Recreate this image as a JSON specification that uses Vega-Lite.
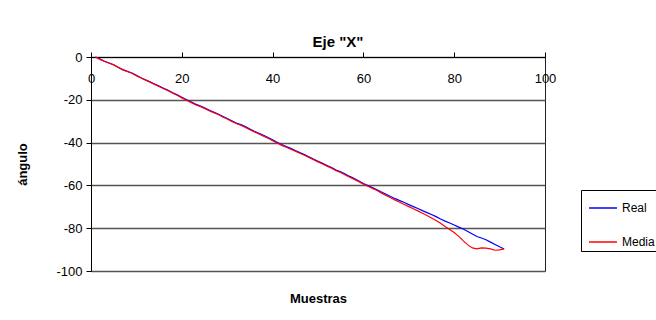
{
  "$schema": "https://vega.github.io/schema/vega-lite/v6.json",
  "autosize": {"type": "none"},
  "width": 454,
  "height": 214,
  "padding": {"left": 91, "top": 57, "right": 111, "bottom": 49},
  "background": "white",
  "config": {
    "font": "Liberation Sans",
    "view": {"stroke": "#222", "strokeWidth": 1}
  },
  "title": {
    "text": "Eje \"X\"",
    "font": "Liberation Sans",
    "fontSize": 15,
    "fontWeight": "bold",
    "color": "#000",
    "anchor": "middle",
    "dx": 20,
    "offset": 1
  },
  "data": {
    "values": [
      {"m": 1, "Real": 0, "Media": 0},
      {"m": 2, "Real": -1.0, "Media": -1.1},
      {"m": 3, "Real": -2.0, "Media": -2.1},
      {"m": 4, "Real": -2.8, "Media": -2.9},
      {"m": 5, "Real": -3.6, "Media": -3.7},
      {"m": 6, "Real": -4.8, "Media": -4.9},
      {"m": 7, "Real": -5.9, "Media": -6.0},
      {"m": 8, "Real": -6.7, "Media": -6.8},
      {"m": 9, "Real": -7.5, "Media": -7.6},
      {"m": 10, "Real": -8.6, "Media": -8.7},
      {"m": 11, "Real": -9.7, "Media": -9.8},
      {"m": 12, "Real": -10.6, "Media": -10.8},
      {"m": 13, "Real": -11.6, "Media": -11.8},
      {"m": 14, "Real": -12.6, "Media": -12.8},
      {"m": 15, "Real": -13.6, "Media": -13.8},
      {"m": 16, "Real": -14.6, "Media": -14.8},
      {"m": 17, "Real": -15.6, "Media": -15.8},
      {"m": 18, "Real": -16.7, "Media": -16.9},
      {"m": 19, "Real": -17.7, "Media": -17.9},
      {"m": 20, "Real": -18.8, "Media": -19.1},
      {"m": 21, "Real": -19.9, "Media": -20.2},
      {"m": 22, "Real": -20.9, "Media": -21.2},
      {"m": 23, "Real": -22.0, "Media": -22.3},
      {"m": 24, "Real": -22.8, "Media": -23.1},
      {"m": 25, "Real": -23.7, "Media": -24.0},
      {"m": 26, "Real": -24.8, "Media": -25.1},
      {"m": 27, "Real": -25.7, "Media": -26.0},
      {"m": 28, "Real": -26.6, "Media": -26.9},
      {"m": 29, "Real": -27.7, "Media": -28.0},
      {"m": 30, "Real": -28.7, "Media": -29.0},
      {"m": 31, "Real": -29.8, "Media": -30.1},
      {"m": 32, "Real": -30.9, "Media": -31.1},
      {"m": 33, "Real": -31.6, "Media": -31.9},
      {"m": 34, "Real": -32.5, "Media": -32.9},
      {"m": 35, "Real": -33.7, "Media": -34.0},
      {"m": 36, "Real": -34.7, "Media": -35.0},
      {"m": 37, "Real": -35.6, "Media": -36.0},
      {"m": 38, "Real": -36.6, "Media": -37.0},
      {"m": 39, "Real": -37.6, "Media": -38.0},
      {"m": 40, "Real": -38.7, "Media": -39.1},
      {"m": 41, "Real": -39.8, "Media": -40.2},
      {"m": 42, "Real": -40.9, "Media": -41.3},
      {"m": 43, "Real": -41.8, "Media": -42.2},
      {"m": 44, "Real": -42.7, "Media": -43.1},
      {"m": 45, "Real": -43.7, "Media": -44.0},
      {"m": 46, "Real": -44.7, "Media": -45.0},
      {"m": 47, "Real": -45.6, "Media": -45.9},
      {"m": 48, "Real": -46.6, "Media": -46.9},
      {"m": 49, "Real": -47.7, "Media": -48.0},
      {"m": 50, "Real": -48.7, "Media": -49.0},
      {"m": 51, "Real": -49.7, "Media": -50.0},
      {"m": 52, "Real": -50.7, "Media": -51.0},
      {"m": 53, "Real": -51.7, "Media": -52.0},
      {"m": 54, "Real": -52.8, "Media": -53.1},
      {"m": 55, "Real": -53.7, "Media": -54.0},
      {"m": 56, "Real": -54.7, "Media": -55.1},
      {"m": 57, "Real": -55.8, "Media": -56.2},
      {"m": 58, "Real": -56.8, "Media": -57.2},
      {"m": 59, "Real": -57.9, "Media": -58.3},
      {"m": 60, "Real": -59.1, "Media": -59.4},
      {"m": 61, "Real": -60.1, "Media": -60.4},
      {"m": 62, "Real": -61.0, "Media": -61.4},
      {"m": 63, "Real": -62.0, "Media": -62.4},
      {"m": 64, "Real": -63.1, "Media": -63.6},
      {"m": 65, "Real": -64.1, "Media": -64.7},
      {"m": 66, "Real": -65.2, "Media": -65.8},
      {"m": 67, "Real": -66.2, "Media": -66.9},
      {"m": 68, "Real": -67.1, "Media": -67.9},
      {"m": 69, "Real": -68.0, "Media": -68.9},
      {"m": 70, "Real": -69.0, "Media": -69.9},
      {"m": 71, "Real": -69.9, "Media": -70.9},
      {"m": 72, "Real": -70.8, "Media": -71.9},
      {"m": 73, "Real": -71.8, "Media": -73.0},
      {"m": 74, "Real": -72.7, "Media": -74.1},
      {"m": 75, "Real": -73.6, "Media": -75.2},
      {"m": 76, "Real": -74.6, "Media": -76.4},
      {"m": 77, "Real": -75.7, "Media": -77.7},
      {"m": 78, "Real": -76.7, "Media": -79.2},
      {"m": 79, "Real": -77.6, "Media": -80.6},
      {"m": 80, "Real": -78.5, "Media": -82.0},
      {"m": 81, "Real": -79.5, "Media": -83.8},
      {"m": 82, "Real": -80.4, "Media": -85.9},
      {"m": 83, "Real": -81.5, "Media": -87.8},
      {"m": 84, "Real": -82.7, "Media": -89.2},
      {"m": 85, "Real": -83.9, "Media": -89.7},
      {"m": 86, "Real": -84.6, "Media": -89.2},
      {"m": 87, "Real": -85.4, "Media": -89.3},
      {"m": 88, "Real": -86.5, "Media": -89.7},
      {"m": 89, "Real": -87.6, "Media": -90.3},
      {"m": 90, "Real": -88.7, "Media": -90.1},
      {"m": 91, "Real": -89.7, "Media": -89.7}
    ]
  },
  "transform": [{"fold": ["Real", "Media"], "as": ["serie", "valor"]}],
  "mark": {"type": "line", "strokeWidth": 1.2, "interpolate": "linear"},
  "encoding": {
    "x": {
      "field": "m",
      "type": "quantitative",
      "scale": {"domain": [0, 100], "nice": false, "zero": false},
      "axis": {
        "orient": "top",
        "values": [0, 20, 40, 60, 80, 100],
        "grid": false,
        "domainColor": "#000",
        "tickColor": "#000",
        "tickSize": 5,
        "labelPadding": -33,
        "labelFont": "Liberation Sans",
        "labelFontSize": 13,
        "labelColor": "#000",
        "labelFlush": false,
        "title": "Muestras",
        "titleFont": "Liberation Sans",
        "titleFontSize": 13,
        "titleFontWeight": "bold",
        "titleColor": "#000",
        "titleX": 227,
        "titleY": 241,
        "titleAlign": "center",
        "titleBaseline": "middle"
      }
    },
    "y": {
      "field": "valor",
      "type": "quantitative",
      "scale": {"domain": [-100, 0], "nice": false, "zero": false},
      "axis": {
        "values": [-100, -80, -60, -40, -20, 0],
        "labelExpr": "datum.value < 0 ? '-' + abs(datum.value) : '' + datum.value",
        "grid": true,
        "gridColor": "#555",
        "gridWidth": 1.5,
        "domainColor": "#000",
        "tickColor": "#000",
        "tickSize": 5,
        "labelPadding": 4,
        "labelFont": "Liberation Sans",
        "labelFontSize": 13,
        "labelColor": "#000",
        "labelFlush": false,
        "title": "ángulo",
        "titleFont": "Liberation Sans",
        "titleFontSize": 13,
        "titleFontWeight": "bold",
        "titleColor": "#000",
        "titleX": -69,
        "titleY": 107,
        "titleAngle": 270,
        "titleAlign": "center",
        "titleBaseline": "middle"
      }
    },
    "color": {
      "field": "serie",
      "type": "nominal",
      "scale": {"domain": ["Real", "Media"], "range": ["#0000ff", "#ff0000"]},
      "legend": {
        "title": null,
        "orient": "none",
        "legendX": 490,
        "legendY": 133,
        "strokeColor": "#000",
        "fillColor": "#fff",
        "padding": 3,
        "symbolType": "stroke",
        "symbolSize": 784,
        "symbolStrokeWidth": 1.5,
        "symbolOffset": 4,
        "rowPadding": 13,
        "labelOffset": 4,
        "labelFont": "Liberation Sans",
        "labelFontSize": 12,
        "labelColor": "#000"
      }
    }
  }
}
